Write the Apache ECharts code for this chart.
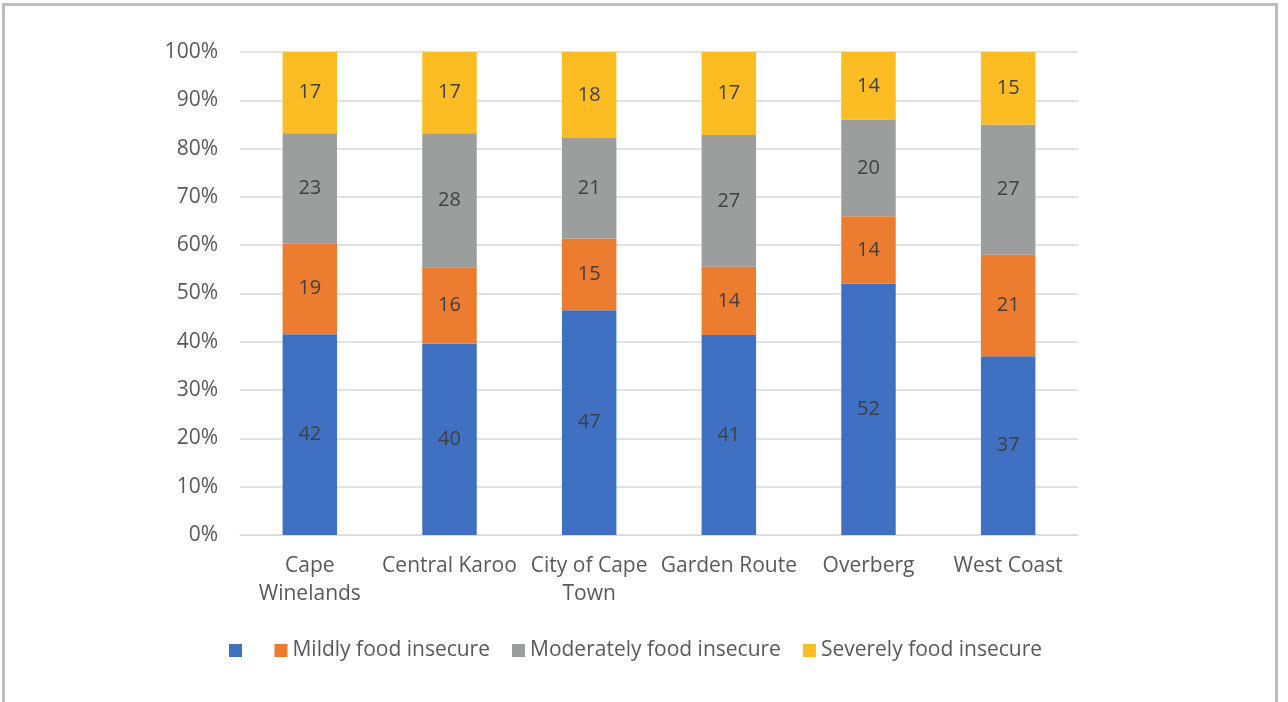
<!DOCTYPE html>
<html>
<head>
<meta charset="utf-8">
<script src="https://cdn.jsdelivr.net/npm/echarts@6/dist/echarts.min.js"></script>
<style>
  html, body { margin: 0; padding: 0; background: #fff; }
  #frame {
    position: absolute; left: 2px; top: 3px; width: 1276px; height: 710px;
    border: 3px solid #bdbdc2; box-sizing: border-box; background: #fff;
  }
  #main { position: absolute; left: 0; top: 0; width: 1288px; height: 702px; }
</style>
</head>
<body>
<div id="frame"></div>
<div id="main"></div>
<script>
// districts
const districts = ['Cape\nWinelands', 'Central Karoo', 'City of Cape\nTown', 'Garden Route', 'Overberg', 'West Coast'];
// food security groups (first one has no label in the original legend)
const groupNames = [' ', 'Mildly food insecure', 'Moderately food insecure', 'Severely food insecure'];
const secure = [42, 40, 47, 41, 52, 37];
const mild = [19, 16, 15, 14, 14, 21];
const moderate = [23, 28, 21, 27, 20, 27];
const severe = [17, 17, 18, 17, 14, 15];
const colors = ['#3f70c2', '#ec7c30', '#9c9d9d', '#fcbc24'];

const chart = echarts.init(document.getElementById('main'));

const groups = [secure, mild, moderate, severe];
// totals per district, bars are drawn as share of 100%
const totals = districts.map((d, i) => groups.reduce((s, g) => s + g[i], 0));

const fontFam = '"Open Sans", "Noto Sans", sans-serif';

const series = groups.map((vals, k) => ({
  name: groupNames[k],
  type: 'bar',
  stack: 'all',
  barWidth: '39%',
  itemStyle: { color: colors[k] },
  label: {
    show: true,
    position: 'inside',
    color: '#404040',
    fontSize: 20,
    fontFamily: fontFam,
    formatter: p => vals[p.dataIndex]
  },
  data: vals.map((v, i) => v / totals[i] * 100)
}));

chart.setOption({
  animation: false,
  grid: { left: 240, right: 210, top: 52, bottom: 167 },
  legend: {
    bottom: 36,
    left: 224,
    itemWidth: 13,
    itemHeight: 13,
    itemGap: 22,
    icon: 'rect',
    textStyle: { color: '#595959', fontSize: 21, fontFamily: fontFam },
    data: groupNames
  },
  xAxis: {
    type: 'category',
    data: districts,
    axisTick: { show: false },
    axisLine: { lineStyle: { color: '#d9d9d9' } },
    axisLabel: {
      color: '#595959', fontSize: 21, fontFamily: fontFam,
      lineHeight: 28, margin: 17, interval: 0
    }
  },
  yAxis: {
    type: 'value',
    min: 0,
    max: 100,
    interval: 10,
    axisLine: { show: false },
    axisTick: { show: false },
    splitLine: { lineStyle: { color: '#d9d9d9', width: 1.5 } },
    axisLabel: {
      color: '#595959', fontSize: 21, fontFamily: fontFam, margin: 22,
      formatter: v => v + '%'
    }
  },
  series: series
});
</script>
</body>
</html>
